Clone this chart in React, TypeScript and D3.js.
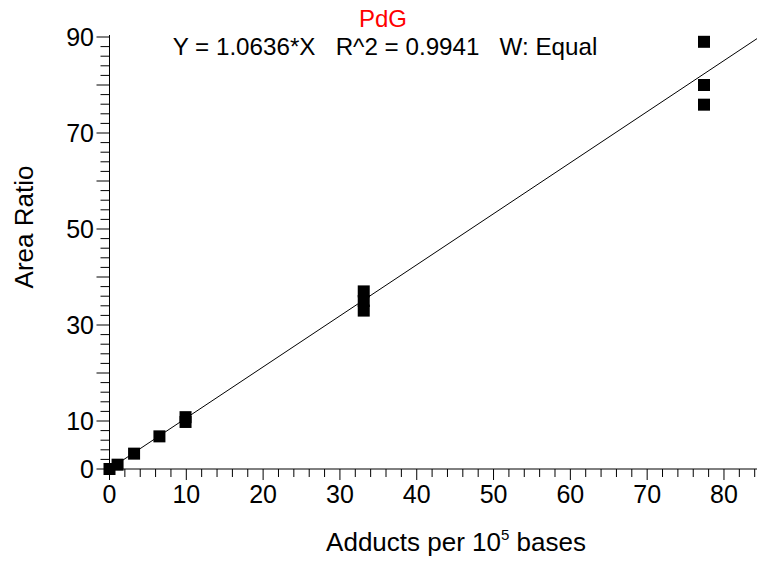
import React from "react";
import * as d3 from "d3";

const title = "PdG";
const equation = "Y = 1.0636*X   R^2 = 0.9941   W: Equal";
const slope = 1.0636;

const xValues = [0, 1.05, 3.2, 6.5, 9.9, 9.9, 33.1, 33.1, 33.1, 77.4, 77.4, 77.4];
const yValues = [0, 0.9, 3.2, 6.8, 9.8, 10.8, 33.0, 35.0, 37.0, 75.9, 80.0, 89.0];

const xTickLabels = [0, 10, 20, 30, 40, 50, 60, 70, 80];
const yTickLabels = [0, 10, 30, 50, 70, 90];
const xMajorTicks = [0, 10, 20, 30, 40, 50, 60, 70, 80];
const yMajorTicks = [0, 10, 20, 30, 40, 50, 60, 70, 80, 90];

const W = 757;
const H = 562;
const FONT = "'Liberation Sans', Arial, sans-serif";

export default function App() {
  const x = d3.scaleLinear().domain([0, 84.3]).range([109.5, 757]);
  const y = d3.scaleLinear().domain([0, 90]).range([469, 37]);

  const xMinor = d3.range(0, 85, 2);
  const yMinor = d3.range(0, 91, 2);

  const lineGen = d3
    .line<number>()
    .x((d) => x(d))
    .y((d) => y(slope * d));
  const fitPath = lineGen([0, x.invert(757)]);

  const ms = 12;

  return (
    <svg
      width={W}
      height={H}
      style={{ position: "absolute", left: 0, top: 0, background: "#fff" }}
      fontFamily={FONT}
    >
      <rect x={0} y={0} width={W} height={H} fill="#fff" />
      {/* title */}
      <text x={383} y={27} textAnchor="middle" fontSize={24} fill="#ff0000">
        {title}
      </text>
      <text x={385} y={55} textAnchor="middle" fontSize={24.2} fill="#000" style={{ whiteSpace: "pre" }}>
        {equation}
      </text>

      {/* axes lines */}
      <line x1={x(0)} x2={x(0)} y1={y(90) - 2} y2={y(0)} stroke="#000" strokeWidth={1} />
      <line x1={x(0)} x2={W} y1={y(0)} y2={y(0)} stroke="#000" strokeWidth={1} />

      {/* y ticks */}
      {yMinor.map((v) => (
        <line
          key={"ym" + v}
          x1={x(0) - (yMajorTicks.includes(v) ? 13 : 9)}
          x2={x(0)}
          y1={y(v)}
          y2={y(v)}
          stroke="#000"
          strokeWidth={1}
        />
      ))}
      {yTickLabels.map((v) => (
        <text key={"yl" + v} x={94} y={y(v) + 8.5} textAnchor="end" fontSize={25}>
          {v}
        </text>
      ))}

      {/* x ticks */}
      {xMinor.map((v) => (
        <line
          key={"xm" + v}
          x1={x(v)}
          x2={x(v)}
          y1={y(0)}
          y2={y(0) + (xMajorTicks.includes(v) ? 11 : 8)}
          stroke="#000"
          strokeWidth={1}
        />
      ))}
      {xTickLabels.map((v) => (
        <text key={"xl" + v} x={x(v)} y={503} textAnchor="middle" fontSize={25}>
          {v}
        </text>
      ))}

      {/* axis titles */}
      <text x={456} y={551} textAnchor="middle" fontSize={26}>
        Adducts per 10
        <tspan fontSize={15} dy={-11}>5</tspan>
        <tspan dy={11}> bases</tspan>
      </text>
      <text
        transform={`translate(33, 227) rotate(-90)`}
        textAnchor="middle"
        fontSize={26}
      >
        Area Ratio
      </text>

      {/* fit line */}
      <path d={fitPath || ""} fill="none" stroke="#000" strokeWidth={1} />

      {/* points */}
      {xValues.map((xv, i) => (
        <rect
          key={"p" + i}
          x={x(xv) - ms / 2}
          y={y(yValues[i]) - ms / 2}
          width={ms}
          height={ms}
          fill="#000"
        />
      ))}
    </svg>
  );
}
